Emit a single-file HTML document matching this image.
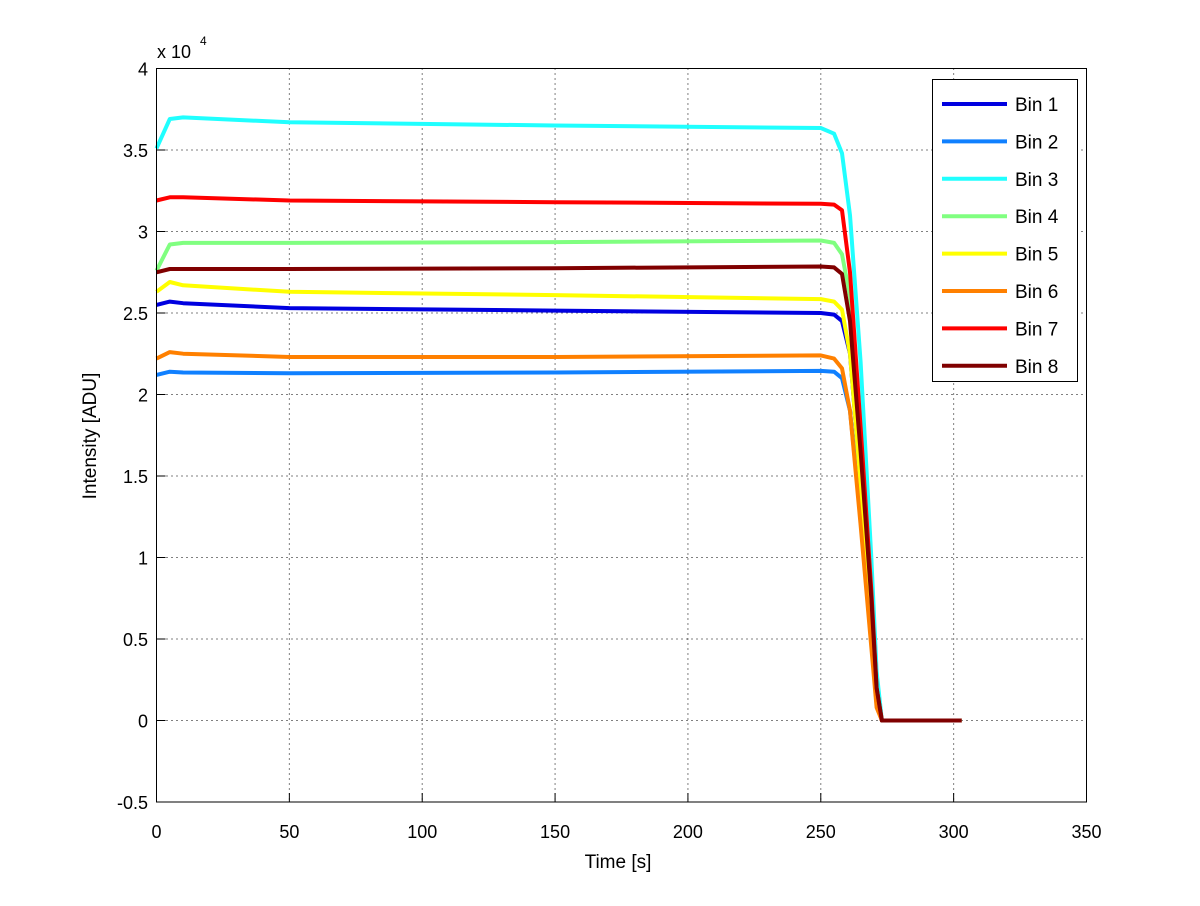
<!DOCTYPE html>
<html><head><meta charset="utf-8"><style>
body{margin:0;background:#fff;}
svg{font-family:"Liberation Sans",sans-serif;}
</style></head><body>
<svg id="chart" width="1200" height="901" viewBox="0 0 1200 901" xmlns="http://www.w3.org/2000/svg">
<rect width="1200" height="901" fill="#fff"/>
<g id="grid"></g>
<g id="series"></g>
<rect x="156.5" y="68.5" width="930" height="733.5" fill="none" stroke="#000" stroke-width="1"/>
<g id="ticks"></g>
<text x="157" y="58" font-size="18">x 10</text>
<text x="200" y="45" font-size="12">4</text>
<text x="618" y="868" font-size="19" text-anchor="middle">Time [s]</text>
<text transform="translate(96,436) rotate(-90)" font-size="19" text-anchor="middle">Intensity [ADU]</text>
<g id="legend"></g>
</svg>
<script>
const times = [0,5,10,50,150,250,255,258,261,265,269,271,273,303];
const bin1 = [25.5,25.7,25.6,25.3,25.15,25.0,24.9,24.5,22.5,14.5,6.0,1.5,0,0];
const bin2 = [21.2,21.4,21.35,21.3,21.35,21.45,21.4,21.0,19.0,12.5,5.0,1.0,0,0];
const bin3 = [35.1,36.9,37.0,36.7,36.5,36.35,36.0,34.8,31.0,22.0,10.0,3.0,0,0];
const bin4 = [27.6,29.2,29.3,29.3,29.35,29.45,29.3,28.6,26.0,17.5,7.5,2.0,0,0];
const bin5 = [26.3,26.9,26.7,26.3,26.1,25.85,25.7,25.2,22.5,14.5,6.0,1.5,0,0];
const bin6 = [22.2,22.6,22.5,22.3,22.3,22.4,22.2,21.6,19.0,12.0,4.5,0.8,0,0];
const bin7 = [31.9,32.1,32.1,31.9,31.8,31.7,31.65,31.3,27.5,18.0,8.0,2.0,0,0];
const bin8 = [27.5,27.7,27.7,27.7,27.75,27.85,27.8,27.4,24.5,16.5,7.5,2.0,0,0];
const seriesData = [bin1,bin2,bin3,bin4,bin5,bin6,bin7,bin8];
const seriesNames = ["Bin 1","Bin 2","Bin 3","Bin 4","Bin 5","Bin 6","Bin 7","Bin 8"];
const seriesColors = ["#0000e0","#1080ff","#20ffff","#80ff80","#ffff00","#ff8000","#ff0000","#800000"];
const xTicks = [0,50,100,150,200,250,300,350];
const yTicks = [-0.5,0,0.5,1,1.5,2,2.5,3,3.5,4];

const X0=156.5,X1=1086.5,Y0=802,Y1=68.5;
const xs = t => X0 + (t-0)/(350-0)*(X1-X0);
const ys = v => Y0 - (v-(-0.5))/(4-(-0.5))*(Y0-Y1);
const NS="http://www.w3.org/2000/svg";
function mk(tag, attrs, parent){const e=document.createElementNS(NS,tag);for(const k in attrs)e.setAttribute(k,attrs[k]);parent.appendChild(e);return e;}
const grid=document.getElementById('grid'),ticks=document.getElementById('ticks'),series=document.getElementById('series'),legend=document.getElementById('legend');

xTicks.forEach(t=>{
  const x=xs(t);
  if(t>0&&t<350){const g=mk('line',{x1:x,x2:x,y1:Y1,y2:Y0,stroke:'#000','stroke-dasharray':'1,4','stroke-width':1},grid);
  
  }
  const tk=mk('line',{x1:x,x2:x,y1:Y0,y2:Y0-9,stroke:'#000'},ticks);
  
  
  const tx=mk('text',{x:x,y:838,'font-size':18,'text-anchor':'middle'},ticks);tx.textContent=t;
  
  
});
yTicks.forEach(v=>{
  const y=ys(v);
  if(v>-0.5&&v<4){const g=mk('line',{x1:X0,x2:X1,y1:y,y2:y,stroke:'#000','stroke-dasharray':'1,4','stroke-width':1},grid);
  
  }
  const tk=mk('line',{x1:X0,x2:X0+9,y1:y,y2:y,stroke:'#000'},ticks);
  
  
  const tx=mk('text',{x:148,y:y+7,'font-size':18,'text-anchor':'end'},ticks);tx.textContent=v;
  
  
});
seriesData.forEach((d,i)=>{
  const pts=times.map((t,j)=>xs(t).toFixed(1)+','+ys(d[j]/10).toFixed(1)).join(' ');
  const p=mk('polyline',{points:pts,fill:'none',stroke:seriesColors[i],'stroke-width':4,'stroke-linejoin':'round'},series);
  
  
});
const lb=mk('rect',{x:932.5,y:79.5,width:145,height:302,fill:'#fff',stroke:'#000'},legend);


seriesNames.forEach((n,i)=>{
  const y=104+i*37.4;
  const l=mk('line',{x1:942,x2:1007,y1:y,y2:y,stroke:seriesColors[i],'stroke-width':4},legend);
  
  
  const t=mk('text',{x:1015,y:y+7,'font-size':19},legend);t.textContent=n;
  
  
});
</script>
</body></html>
